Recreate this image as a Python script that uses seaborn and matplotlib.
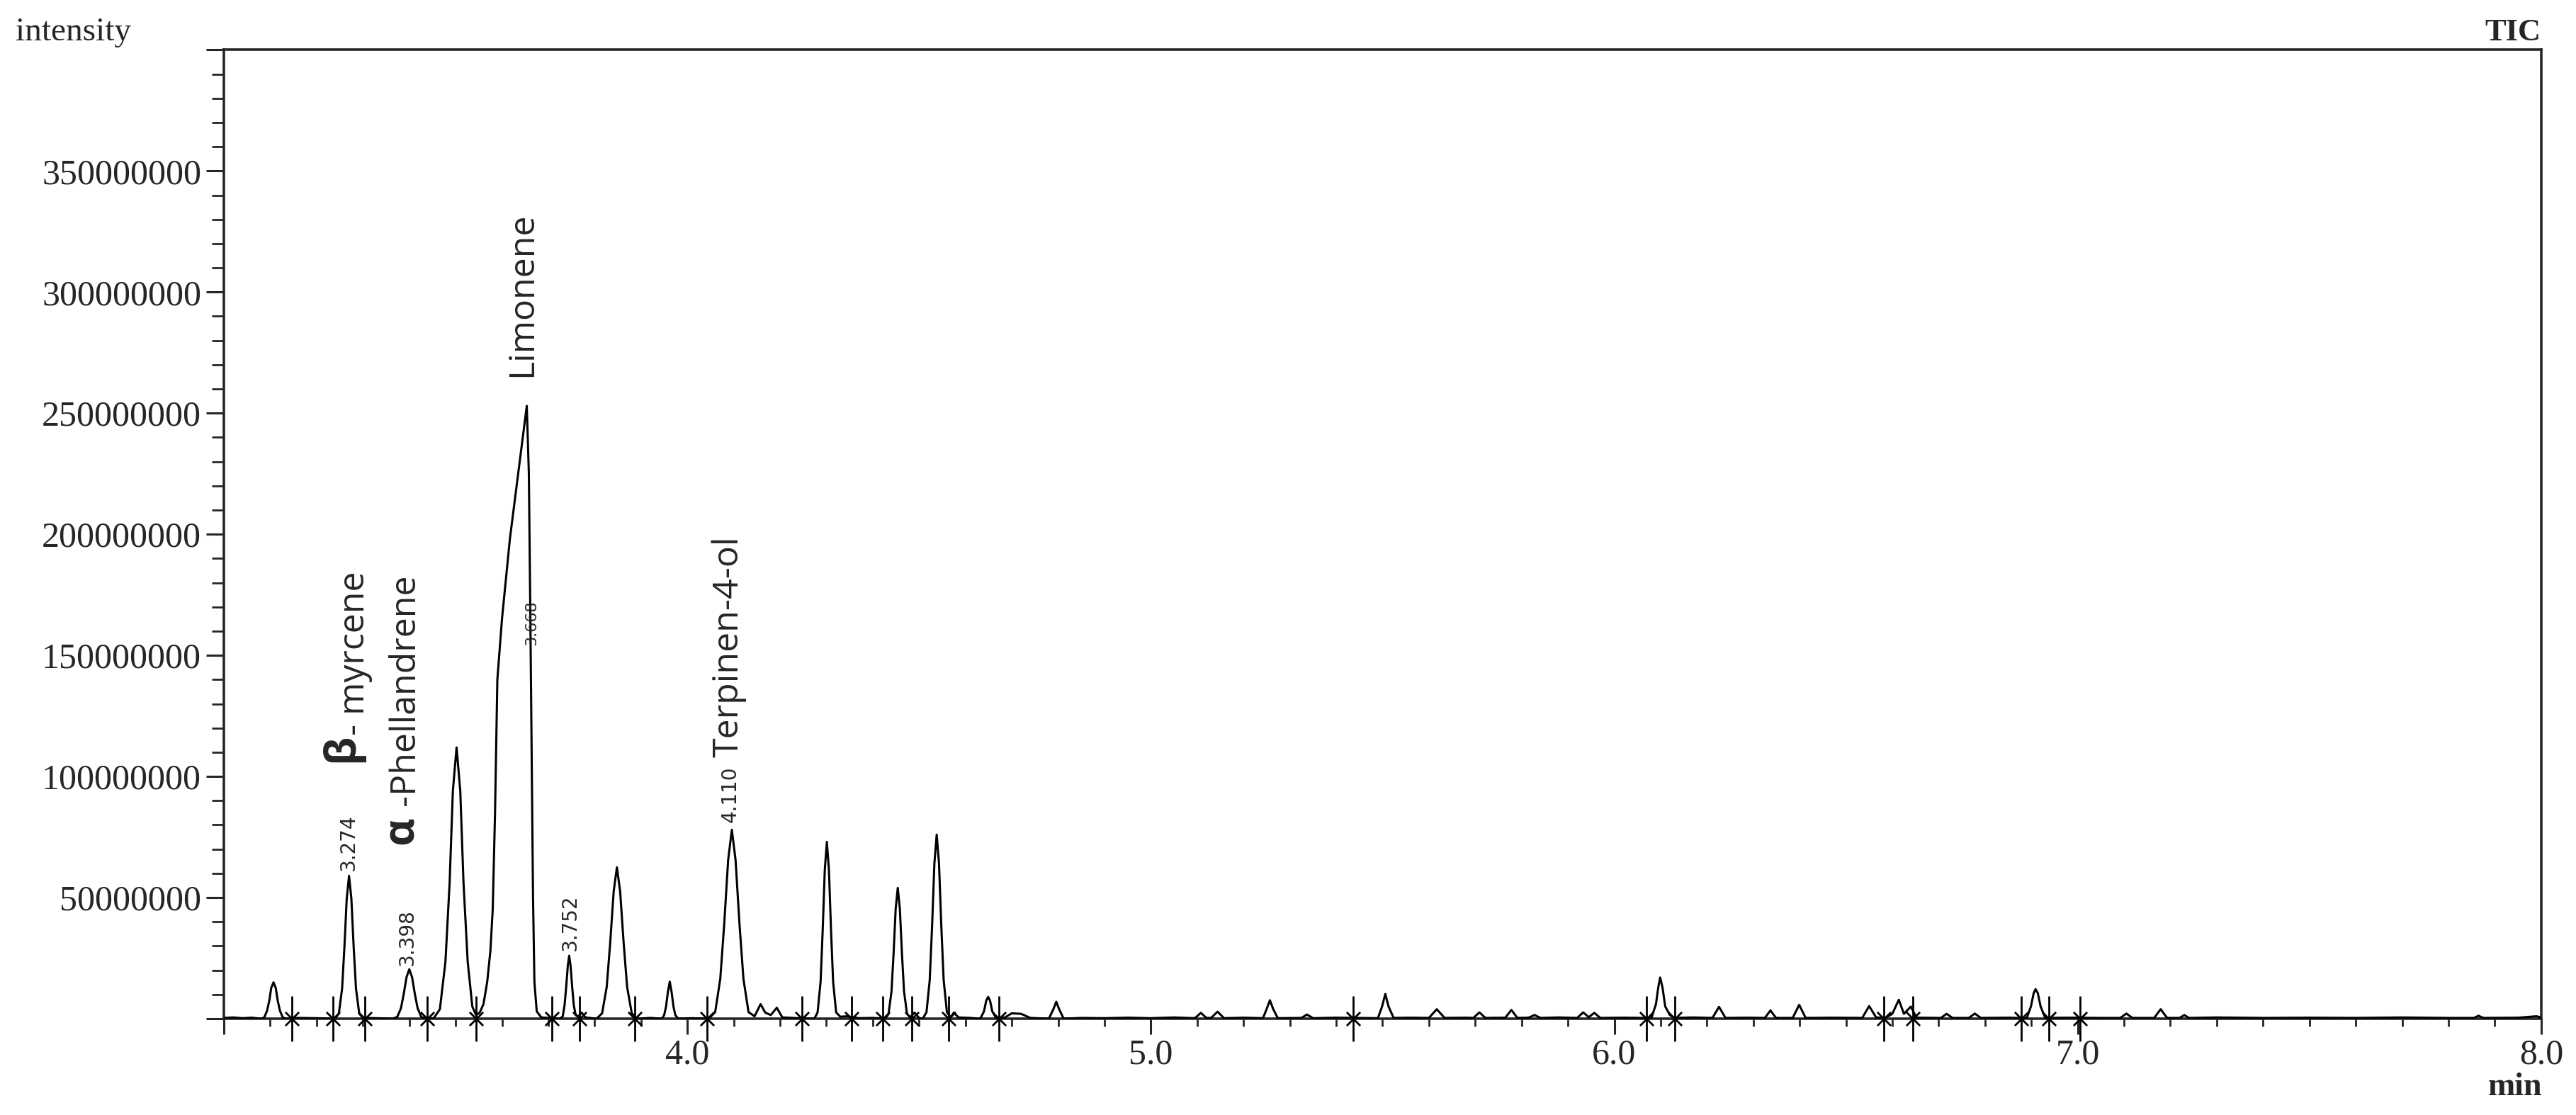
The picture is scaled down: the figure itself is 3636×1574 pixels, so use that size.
import matplotlib
matplotlib.use("Agg")
import matplotlib.pyplot as plt
import seaborn as sns
from matplotlib.path import Path
from matplotlib.ticker import MultipleLocator, FixedLocator, FuncFormatter

# TIC trace: retention time (min) and intensity (millions)
time_min = [
    3.000, 3.020, 3.040, 3.060, 3.080, 3.087, 3.093, 3.098, 3.102, 3.107, 3.112, 3.116, 3.121, 3.127, 3.134,
    3.160, 3.200, 3.240, 3.248, 3.255, 3.260, 3.265, 3.270, 3.275, 3.280, 3.285, 3.292, 3.300, 3.330,
    3.364, 3.374, 3.382, 3.388, 3.394, 3.400, 3.406, 3.412, 3.418, 3.426, 3.436, 3.446,
    3.452, 3.466, 3.478, 3.487, 3.494, 3.502, 3.510, 3.517, 3.526, 3.536, 3.544,
    3.552, 3.560, 3.568, 3.575, 3.580, 3.585, 3.590, 3.600, 3.617, 3.635, 3.6535, 3.658, 3.661, 3.664,
    3.667, 3.670, 3.675, 3.685, 3.700,
    3.725, 3.731, 3.735, 3.7385, 3.742, 3.745, 3.748, 3.7515, 3.755, 3.759, 3.765, 3.772, 3.780,
    3.804, 3.816, 3.826, 3.8335, 3.841, 3.848, 3.855, 3.8625, 3.870, 3.880, 3.892, 3.920,
    3.945, 3.950, 3.954, 3.958, 3.962, 3.966, 3.970, 3.974, 3.980, 4.010,
    4.046, 4.060, 4.071, 4.0795, 4.088, 4.096, 4.104, 4.1125, 4.121, 4.132, 4.145, 4.158, 4.168, 4.180,
    4.193, 4.205, 4.240,
    4.274, 4.281, 4.2875, 4.292, 4.2965, 4.301, 4.3055, 4.310, 4.3145, 4.321, 4.330, 4.345, 4.370, 4.400,
    4.427, 4.434, 4.4405, 4.445, 4.4495, 4.454, 4.4585, 4.463, 4.4675, 4.474, 4.481, 4.490, 4.500,
    4.508, 4.516, 4.523, 4.528, 4.533, 4.538, 4.543, 4.548, 4.553, 4.560, 4.568, 4.575, 4.585, 4.610,
    4.632, 4.640, 4.645, 4.649, 4.653, 4.658, 4.667, 4.685, 4.700, 4.720, 4.740,
    4.780, 4.790, 4.796, 4.802, 4.812, 4.850, 4.900, 4.950, 5.000, 5.050,
    5.095, 5.108, 5.120, 5.130, 5.144, 5.158, 5.200, 5.242, 5.250, 5.257, 5.264, 5.274,
    5.325, 5.337, 5.350, 5.400, 5.450, 5.490, 5.499, 5.506, 5.513, 5.524, 5.560,
    5.600, 5.617, 5.634, 5.680, 5.696, 5.709, 5.722, 5.765, 5.778, 5.791, 5.815, 5.828, 5.841,
    5.880, 5.920, 5.933, 5.945, 5.957, 5.970, 6.020, 6.060,
    6.080, 6.090, 6.095, 6.099, 6.104, 6.110, 6.120, 6.130, 6.170, 6.212, 6.226, 6.240, 6.290,
    6.325, 6.337, 6.349, 6.385, 6.399, 6.413, 6.470, 6.535, 6.550, 6.565, 6.585, 6.600, 6.614,
    6.625, 6.640, 6.652, 6.705, 6.717, 6.730, 6.765, 6.778, 6.791, 6.850,
    6.890, 6.899, 6.905, 6.909, 6.914, 6.920, 6.930, 6.980, 7.050, 7.092, 7.105, 7.118,
    7.165, 7.179, 7.193, 7.220, 7.230, 7.240, 7.300, 7.400, 7.500, 7.600, 7.700, 7.800,
    7.855, 7.865, 7.875, 7.950, 7.990, 8.000,
]
intensity_m = [
    0.3, 0.5, 0.2, 0.4, 0.0, 0.5, 3.2, 7.5, 12.6, 15.0, 12.6, 7.5, 3.2, 0.5, 0.0,
    0.3, 0.2, 0.0, 2.1, 12.4, 29.5, 49.6, 59.0, 49.6, 29.5, 12.4, 2.1, 0.3, 0.2,
    0.0, 0.7, 4.3, 10.2, 17.1, 20.4, 17.1, 10.2, 4.3, 0.7, 0.0, 0.3,
    0.0, 3.9, 23.5, 56.0, 94.0, 112.0, 94.0, 56.0, 23.5, 5.0, 1.5,
    2.5, 6.0, 15.0, 28.0, 45.0, 85.0, 140.0, 165.0, 198.0, 225.0, 253.0, 225.0, 170.0, 110.0,
    50.0, 15.0, 3.0, 0.5, 0.3,
    0.0, 0.9, 5.5, 13.0, 21.8, 26.0, 21.8, 13.0, 5.5, 1.5, 1.0, 2.5, 0.5,
    0.0, 2.2, 13.1, 31.3, 52.5, 62.5, 52.5, 31.3, 13.1, 2.2, 0.0, 0.3,
    0.0, 1.5, 5.0, 11.0, 15.3, 11.0, 5.0, 1.5, 0.0, 0.2,
    0.0, 2.7, 16.4, 39.0, 65.5, 78.0, 65.5, 39.0, 16.4, 2.7, 1.0, 6.0, 2.5, 1.5,
    4.5, 0.5, 0.2,
    0.0, 2.6, 15.3, 36.5, 61.3, 73.0, 61.3, 36.5, 15.3, 2.6, 0.8, 1.0, 0.2, 0.3,
    0.0, 1.9, 11.3, 27.0, 45.4, 54.0, 45.4, 27.0, 11.3, 1.9, 0.5, 2.5, 0.3,
    0.0, 2.7, 16.0, 38.0, 64.0, 76.0, 64.0, 38.0, 16.0, 2.7, 0.5, 2.5, 0.5, 0.3,
    0.0, 3.0, 7.5, 9.0, 7.5, 3.0, 0.0, 0.5, 2.2, 2.0, 0.3,
    0.0, 4.0, 7.0, 4.0, 0.0, 0.3, 0.2, 0.4, 0.2, 0.5,
    0.2, 2.4, 0.3, 0.3, 2.9, 0.2, 0.4, 0.2, 4.0, 7.6, 4.0, 0.2,
    0.3, 1.7, 0.2, 0.4, 0.3, 0.2, 5.0, 10.2, 5.0, 0.3, 0.4,
    0.3, 3.9, 0.3, 0.4, 0.3, 2.6, 0.3, 0.4, 3.6, 0.3, 0.4, 1.5, 0.3,
    0.5, 0.3, 2.6, 0.6, 2.4, 0.3, 0.4, 0.3,
    0.2, 6.0, 13.0, 17.0, 13.0, 5.0, 1.5, 0.3, 0.5, 0.3, 4.9, 0.3, 0.4,
    0.3, 3.4, 0.3, 0.3, 5.7, 0.3, 0.4, 0.3, 5.2, 0.5, 0.3, 2.0, 7.8,
    2.0, 5.0, 0.4, 0.3, 2.0, 0.3, 0.3, 2.1, 0.3, 0.4,
    0.2, 5.0, 10.5, 12.2, 10.5, 5.0, 0.3, 0.4, 0.3, 0.3, 2.1, 0.3,
    0.3, 3.9, 0.3, 0.3, 1.5, 0.3, 0.5, 0.3, 0.4, 0.3, 0.5, 0.3,
    0.3, 1.2, 0.3, 0.4, 1.0, 0.5,
]

# integration start/end marks on the baseline
mark_times = [3.146, 3.236, 3.304, 3.438, 3.544, 3.708, 3.768, 3.887, 4.043, 4.248,
              4.354, 4.421, 4.485, 4.564, 4.673, 5.436, 6.070, 6.130, 6.582, 6.645,
              6.878, 6.938, 7.005]

# retention time labels (text, time, intensity in millions at text base)
rt_labels = ["3.274", "3.398", "3.752", "4.110"]
rt_x = [3.269, 3.395, 3.748, 4.093]
rt_y = [61.0, 22.0, 28.0, 81.0]

# compound names
names = ["Limonene", "Terpinen-4-ol"]
names_x = [3.644, 4.089]
names_y = [265.0, 108.0]

df_x = [t for t in time_min]
df_y = [v * 1e6 for v in intensity_m]

sns.set_style("ticks")
plt.rcParams["font.family"] = ["Liberation Serif", "DejaVu Serif"]
plt.rcParams["axes.linewidth"] = 2.2

fig = plt.figure(figsize=(36.37, 15.74), dpi=100)
ax = fig.add_axes([0.0869, 0.0864, 0.8993, 0.8689])

sns.lineplot(x=df_x, y=df_y, ax=ax, color="black", linewidth=2.2,
             sort=False, estimator=None, zorder=3)

# star-like integration marker
mark_path = Path(
    [(0, 1), (0, -1), (-0.3, -0.3), (0.3, 0.3), (-0.3, 0.3), (0.3, -0.3)],
    [Path.MOVETO, Path.LINETO, Path.MOVETO, Path.LINETO, Path.MOVETO, Path.LINETO],
)
ax.plot(mark_times, [0] * len(mark_times), linestyle="none", marker=mark_path,
        markersize=46, markeredgewidth=2.0, color="black", clip_on=False, zorder=4)

ax.set_xlim(3.0, 8.0)
ax.set_ylim(0, 400e6)

ax.xaxis.set_major_locator(MultipleLocator(1.0))
ax.xaxis.set_minor_locator(MultipleLocator(0.1))
ax.xaxis.set_major_formatter(FuncFormatter(lambda v, p: "" if abs(v - 3.0) < 1e-6 else f"{v:.1f}"))
ax.yaxis.set_major_locator(FixedLocator([i * 50e6 for i in range(9)]))
ax.yaxis.set_minor_locator(MultipleLocator(10e6))
ax.yaxis.set_major_formatter(FuncFormatter(lambda v, p: "" if v < 1 or v > 399e6 else f"{int(round(v))}"))

ax.tick_params(axis="x", which="major", direction="out", length=16, width=2.2, labelsize=36, pad=4)
ax.tick_params(axis="x", which="minor", direction="out", length=8, width=2.0)
ax.tick_params(axis="y", which="major", direction="out", length=18, width=2.2, labelsize=36, pad=5)
ax.tick_params(axis="y", which="minor", direction="out", length=12, width=2.0)
ax.set_xlabel("")
ax.set_ylabel("")
for side in ["top", "right", "left", "bottom"]:
    ax.spines[side].set_visible(True)
    ax.spines[side].set_linewidth(2.6)

sans = ["Open Sans", "DejaVu Sans"]
narrow = ["Liberation Sans Narrow", "DejaVu Sans"]

for txt, x, y in zip(names, names_x, names_y):
    ax.text(x, y * 1e6, txt, rotation=90, ha="center", va="bottom", fontsize=36, family=sans)

# beta-myrcene and alpha-phellandrene with bold greek letters
ax.text(3.255, 106e6, "β", rotation=90, ha="center", va="bottom", fontsize=44,
        fontweight="bold", family=sans)
ax.text(3.283, 117e6, "- myrcene", rotation=90, ha="center", va="bottom", fontsize=36, family=sans)
ax.text(3.384, 72e6, "α", rotation=90, ha="center", va="bottom", fontsize=44,
        fontweight="bold", family=sans)
ax.text(3.391, 88e6, "-Phellandrene", rotation=90, ha="center", va="bottom", fontsize=36, family=sans)

for txt, x, y in zip(rt_labels, rt_x, rt_y):
    ax.text(x, y * 1e6, txt, rotation=90, ha="center", va="bottom", fontsize=20, family=narrow)
ax.text(3.664, 154e6, "3.668", rotation=90, ha="center", va="bottom", fontsize=16, family=narrow)

fig.text(0.006, 0.971, "intensity", ha="left", va="center", fontsize=34)
fig.text(0.9862, 0.971, "TIC", ha="right", va="center", fontsize=32, fontweight="bold")
fig.text(0.9866, 0.0245, "min", ha="right", va="center", fontsize=33, fontweight="bold")

fig.savefig("out.png", dpi=100, facecolor="white")
